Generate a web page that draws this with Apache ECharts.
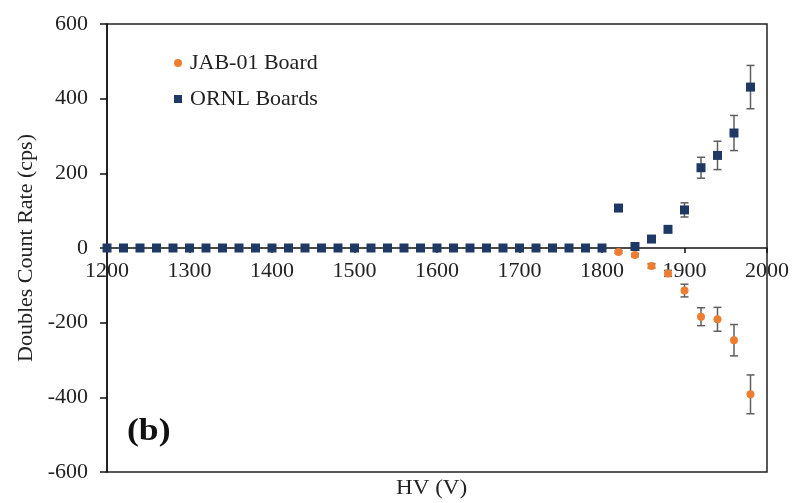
<!DOCTYPE html>
<html>
<head>
<meta charset="utf-8">
<script src="https://cdn.jsdelivr.net/npm/echarts@6/dist/echarts.min.js"></script>
<style>
html,body{margin:0;padding:0;background:#fff;}
#chart{width:796px;height:503px;}
</style>
</head>
<body>
<div id="chart"></div>
<script>
var hv = [1200,1220,1240,1260,1280,1300,1320,1340,1360,1380,1400,1420,1440,1460,1480,1500,1520,1540,1560,1580,1600,1620,1640,1660,1680,1700,1720,1740,1760,1780,1800,1820,1840,1860,1880,1900,1920,1940,1960,1980];
var jabValues = [0,0,0,0,0,0,0,0,0,0,0,0,0,0,0,0,0,0,0,0,0,0,0,0,0,0,0,0,0,0,0,-11,-19,-48,-68,-114,-184,-191,-247,-392];
var jabErrors = [0,0,0,0,0,0,0,0,0,0,0,0,0,0,0,0,0,0,0,0,0,0,0,0,0,0,0,0,0,0,0,3,4,6,8,17,24,32,42,52];
var ornlValues = [0,0,0,0,0,0,0,0,0,0,0,0,0,0,0,0,0,0,0,0,0,0,0,0,0,0,0,0,0,0,0,107,4,24,50,102,215,248,308,431];
var ornlErrors = [0,0,0,0,0,0,0,0,0,0,0,0,0,0,0,0,0,0,0,0,0,0,0,0,0,0,0,0,0,0,0,3,3,5,8,19,28,38,47,58];
var seriesNames = ['JAB-01 Board','ORNL Boards'];
var xTicks = [1200,1300,1400,1500,1600,1700,1800,1900,2000];
var yTicks = [-600,-400,-200,0,200,400,600];

var FONT = '"Liberation Serif", "Times New Roman", serif';
var ORANGE = '#ED7D31';
var NAVY = '#1F3864';

function pts(vals){ return hv.map(function(x,i){ return [x, vals[i]]; }); }
function errs(vals, e){
  var out = [];
  hv.forEach(function(x,i){ if(e[i] > 0) out.push([x, vals[i]-e[i], vals[i]+e[i]]); });
  return out;
}
function errRender(params, api){
  var x = api.value(0);
  var lo = api.coord([x, api.value(1)]);
  var hi = api.coord([x, api.value(2)]);
  var w = 4;
  var st = {stroke:'#5f5f5f', lineWidth:1.5};
  return {type:'group', children:[
    {type:'line', shape:{x1:lo[0],y1:lo[1],x2:hi[0],y2:hi[1]}, style:st},
    {type:'line', shape:{x1:lo[0]-w,y1:lo[1],x2:lo[0]+w,y2:lo[1]}, style:st},
    {type:'line', shape:{x1:hi[0]-w,y1:hi[1],x2:hi[0]+w,y2:hi[1]}, style:st}
  ]};
}

var GRID_TOP = 24, GRID_BOTTOM = 31, H = 503;
var plotH = H - GRID_TOP - GRID_BOTTOM;
var zeroOffset = -plotH * (0 - yTicks[0]) / (yTicks[yTicks.length-1] - yTicks[0]);

var chart = echarts.init(document.getElementById('chart'));
chart.setOption({
  animation:false,
  backgroundColor:'#fff',
  textStyle:{fontFamily:FONT},
  grid:{left:107, right:29, top:GRID_TOP, bottom:GRID_BOTTOM, show:true, borderColor:'#222', borderWidth:1.5, backgroundColor:'transparent'},
  legend:{
    orient:'vertical', left:169, top:47, itemGap:14, itemWidth:8, itemHeight:8,
    data:[{name:seriesNames[0], icon:'circle'},{name:seriesNames[1], icon:'rect'}],
    textStyle:{fontFamily:FONT, fontSize:22, color:'#222', padding:[0,0,0,3]}
  },
  xAxis:{
    type:'value', min:xTicks[0], max:xTicks[xTicks.length-1], interval:100,
    offset:zeroOffset,
    axisLine:{show:true, onZero:false, lineStyle:{color:'#111', width:1.5}},
    axisTick:{show:true, inside:false, length:5, lineStyle:{color:'#111', width:1.5}},
    axisLabel:{fontFamily:FONT, fontSize:22, color:'#222', margin:12, formatter:function(v){return String(v);}},
    splitLine:{show:false}
  },
  yAxis:{
    type:'value', min:yTicks[0], max:yTicks[yTicks.length-1], interval:200,
    name:'Doubles Count Rate (cps)', nameLocation:'middle', nameGap:69,
    nameTextStyle:{fontFamily:FONT, fontSize:22, color:'#222'},
    axisLine:{show:true, lineStyle:{color:'#111', width:1.5}},
    axisTick:{show:true, inside:false, length:7, lineStyle:{color:'#111', width:1.5}},
    axisLabel:{fontFamily:FONT, fontSize:22, color:'#222', margin:19},
    splitLine:{show:false}
  },
  graphic:[
    {type:'text', left:396, top:478, scaleX:1.1, style:{text:'HV (V)', font:'21px "Liberation Serif", serif', fill:'#222'}},
    {type:'text', left:127, top:416, scaleX:1.15, style:{text:'(b)', font:'bold 31px "Liberation Serif", serif', fill:'#111'}}
  ],
  series:[
    {type:'custom', name:'jabErr', renderItem:errRender, data:errs(jabValues, jabErrors), z:1, silent:true, encode:{x:0,y:[1,2]}},
    {type:'custom', name:'ornlErr', renderItem:errRender, data:errs(ornlValues, ornlErrors), z:1, silent:true, encode:{x:0,y:[1,2]}},
    {type:'scatter', name:seriesNames[0], data:pts(jabValues), symbol:'circle', symbolSize:8, itemStyle:{color:ORANGE, opacity:1}, z:3},
    {type:'scatter', name:seriesNames[1], data:pts(ornlValues), symbol:'rect', symbolSize:9, itemStyle:{color:NAVY, opacity:1}, z:4}
  ]
});
</script>
</body>
</html>
